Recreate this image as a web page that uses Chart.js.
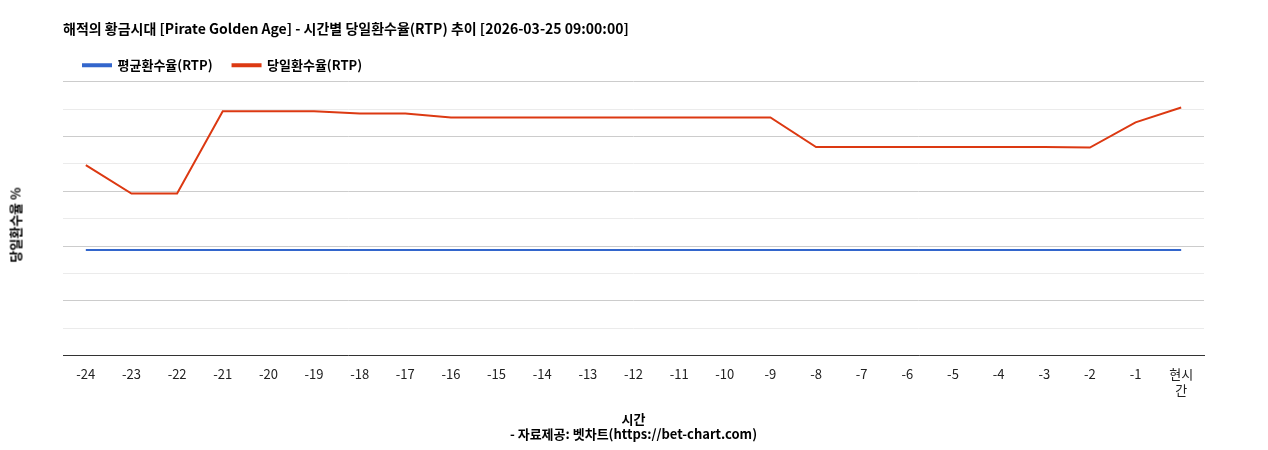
<!DOCTYPE html>
<html>
<head>
<meta charset="utf-8">
<script src="https://cdn.jsdelivr.net/npm/chart.js@4"></script>
<style>
  body { margin: 0; background: #fff; }
  #wrap { position: relative; width: 1268px; height: 450px; }
  #ytitle { position: absolute; left: 15px; top: 225px; transform: translate(-50%, -50%) rotate(-90deg);
    font: bold 13px 'Noto Sans CJK KR', 'Noto Sans', sans-serif; color: #000; white-space: nowrap; }
</style>
</head>
<body>
<div id="wrap"><canvas id="rtpChart"></canvas><div id="ytitle">당일환수율 %</div></div>
<script>
const hours = ["-24","-23","-22","-21","-20","-19","-18","-17","-16","-15","-14","-13","-12","-11","-10","-9","-8","-7","-6","-5","-4","-3","-2","-1",["현시","간"]];
const avgRtp = [96.5,96.5,96.5,96.5,96.5,96.5,96.5,96.5,96.5,96.5,96.5,96.5,96.5,96.5,96.5,96.5,96.5,96.5,96.5,96.5,96.5,96.5,96.5,96.5,96.5];
const dayRtp = [174,148,148,223,223,223,221,221,217.5,217.5,217.5,217.5,217.5,217.5,217.5,217.5,190.5,190.5,190.5,190.5,190.5,190.5,190,213,226.5];

Chart.defaults.font.family = "'Noto Sans CJK KR', 'Noto Sans', sans-serif";
Chart.defaults.color = "#222";

new Chart(document.getElementById("rtpChart"), {
  type: "line",
  data: {
    labels: hours,
    datasets: [
      { label: "평균환수율(RTP)", data: avgRtp, borderColor: "#3366cc", backgroundColor: "#3366cc", borderWidth: 2, pointRadius: 0, tension: 0 },
      { label: "당일환수율(RTP)", data: dayRtp, borderColor: "#dc3912", backgroundColor: "#dc3912", borderWidth: 2, pointRadius: 0, tension: 0 },
    ],
  },
  options: {
    responsive: true,
    maintainAspectRatio: false,
    animation: false,
    layout: { padding: { left: 63, right: 64, top: 10, bottom: 4 } },
    plugins: {
      title: { display: true, text: "해적의 황금시대 [Pirate Golden Age] - 시간별 당일환수율(RTP) 추이 [2026-03-25 09:00:00]", align: "start", font: { size: 14, weight: "bold" }, color: "#000", padding: { top: 10, bottom: 2 } },
      legend: {
        align: "start",
        labels: { boxWidth: 28, boxHeight: 2, font: { size: 13, weight: "bold" }, color: "#000", padding: 20 },
      },
    },
    scales: {
      x: {
        offset: true,
        grid: { display: false },
        border: { color: "#333" },
        ticks: { font: { size: 13 }, color: "#222", maxRotation: 0, autoSkip: false },
        title: { display: true, text: ["시간", "- 자료제공: 벳차트(https://bet-chart.com)"], font: { size: 13, weight: "bold" }, color: "#000", padding: { top: 10 } },
      },
      y: {
        min: 0, max: 250,
        afterFit: (s) => { s.width = 0; },
        ticks: { stepSize: 25, font: { size: 13 }, color: "#222", padding: 8, callback: (v) => (v % 50 === 0 ? v : "") },
        grid: { color: (c) => (c.tick && c.tick.value % 50 === 0 ? "#cccccc" : "#ebebeb"), drawTicks: false },
        border: { display: false },
      },
    },
  },
});
</script>
</body>
</html>
